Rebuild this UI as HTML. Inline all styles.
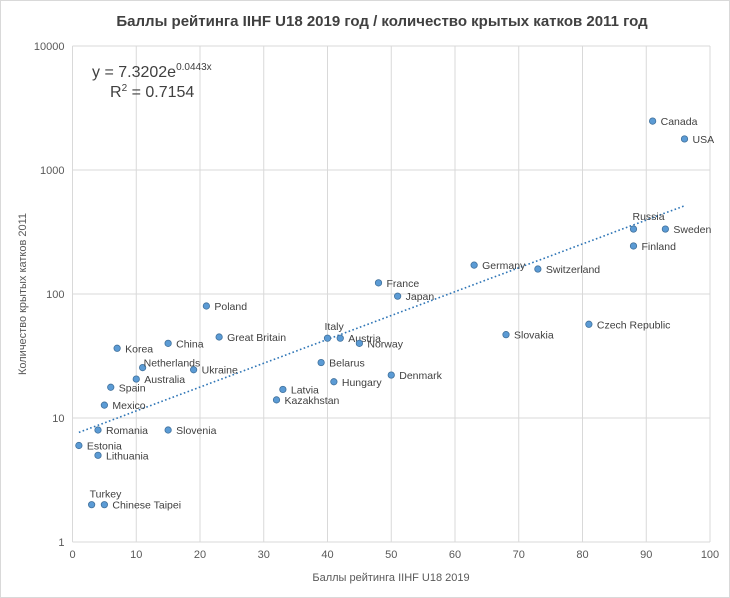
<!DOCTYPE html>
<html><head><meta charset="utf-8"><style>
body{margin:0;background:#fff;}
svg{display:block;font-family:"Liberation Sans","DejaVu Sans",sans-serif;}
</style></head><body>
<svg id="chart" width="730" height="598" viewBox="0 0 730 598">
<rect x="0.5" y="0.5" width="729" height="597" fill="#fff" stroke="#d9d9d9"/>
<text x="382" y="26" text-anchor="middle" font-size="15" font-weight="bold" fill="#404040">Баллы рейтинга IIHF U18 2019 год  / количество крытых катков 2011 год</text>
<g id="grid"></g>
<g id="axes"></g>
<g id="trend"></g>
<g id="points"></g>
<text x="92" y="77" font-size="16" fill="#404040">y = 7.3202e<tspan font-size="10" dy="-7">0.0443x</tspan></text>
<text x="110" y="97" font-size="16" fill="#404040">R<tspan font-size="10" dy="-6">2</tspan><tspan dy="6"> = 0.7154</tspan></text>
<text x="391" y="581" text-anchor="middle" font-size="11" fill="#595959">Баллы рейтинга IIHF U18 2019</text>
<text x="0" y="0" transform="translate(26,294) rotate(-90)" text-anchor="middle" font-size="11" fill="#595959">Количество крытых катков 2011</text>
</svg>
<script>
const countries=["Canada","USA","Russia","Sweden","Finland","Germany","Switzerland","France","Japan","Poland","Czech Republic","Slovakia","Great Britain","Italy","Austria","Norway","China","Korea","Netherlands","Ukraine","Australia","Spain","Mexico","Romania","Slovenia","Estonia","Lithuania","Turkey","Chinese Taipei","Belarus","Latvia","Kazakhstan","Hungary","Denmark"];
const scores=[91,96,88,93,88,63,73,48,51,21,81,68,23,40,42,45,15,7,11,19,10,6,5,4,15,1,4,3,5,39,33,32,41,50];
const rinks=[2480,1780,334,334,244,171,159,123,96,80,57,47,45,44,44,40,40,36.5,25.5,24.5,20.6,17.7,12.7,8,8,6,5,2,2,28,17,14,19.6,22.2];
const xTicks=[0,10,20,30,40,50,60,70,80,90,100];
const yTicks=[1,10,100,1000,10000];
const trendA=7.3202, trendB=0.0443, trendRange=[1,96];

const NS="http://www.w3.org/2000/svg";
const L=72.5,R=710,T=46,B=542;
const xs=v=>L+(v-0)/(100-0)*(R-L);
const ys=v=>B-(Math.log10(v)-0)/4*(B-T);
function mk(tag,attrs,parent){const e=document.createElementNS(NS,tag);for(const k in attrs)e.setAttribute(k,attrs[k]);parent.appendChild(e);return e;}
const grid=document.getElementById('grid'),axes=document.getElementById('axes'),pts=document.getElementById('points'),tr=document.getElementById('trend');
xTicks.forEach(t=>{
  const l=mk('line',{x1:xs(t),x2:xs(t),y1:T,y2:B,stroke:'#d9d9d9','stroke-width':1},grid);
  
  
  const tx=mk('text',{x:xs(t),y:B+16,'text-anchor':'middle','font-size':11,fill:'#595959'},axes);
  tx.textContent=t;
  
  
});
yTicks.forEach(t=>{
  const l=mk('line',{x1:L,x2:R,y1:ys(t),y2:ys(t),stroke:'#d9d9d9','stroke-width':1},grid);
  
  
  const tx=mk('text',{x:L-8,y:ys(t)+4,'text-anchor':'end','font-size':11,fill:'#595959'},axes);
  tx.textContent=t;
  
  
});
let d='';
for(let i=0;i<=60;i++){const x=trendRange[0]+(trendRange[1]-trendRange[0])*i/60;d+=(i?'L':'M')+xs(x).toFixed(1)+' '+ys(trendA*Math.exp(trendB*x)).toFixed(1);}
const tl=mk('path',{d:d,fill:'none',stroke:'#2e75b6','stroke-width':1.6,'stroke-dasharray':'1.6 2.4'},tr);


const labelOffset={"Russia":[-1,-13],"Italy":[-3,-12],"Turkey":[-2,-11],"Netherlands":[1,-5]};
countries.forEach((c,i)=>{
  const cx=xs(scores[i]),cy=ys(rinks[i]);
  const p=mk('circle',{cx:cx,cy:cy,r:3.2,fill:'#5b9bd5',stroke:'#41719c','stroke-width':0.8},pts);
  
  
  const o=labelOffset[c]||[8,0];
  const t=mk('text',{x:cx+o[0],y:cy+o[1]+4,'font-size':10.5,fill:'#404040'},pts);
  t.textContent=c;
  
  
});
</script>
</body></html>
